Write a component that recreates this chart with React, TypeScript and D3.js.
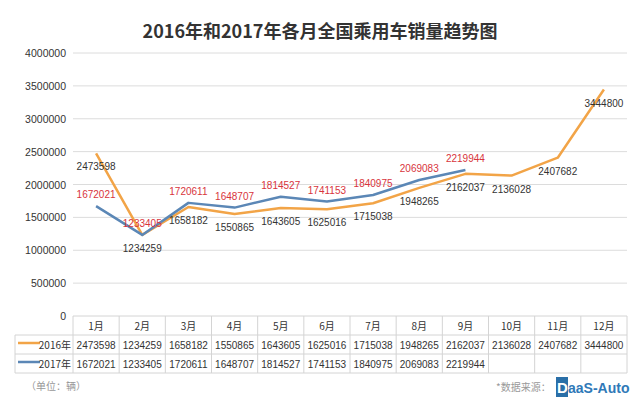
import React from "react";
import * as d3 from "d3";

const months = ["1月", "2月", "3月", "4月", "5月", "6月", "7月", "8月", "9月", "10月", "11月", "12月"];
const sales2016 = [2473598, 1234259, 1658182, 1550865, 1643605, 1625016, 1715038, 1948265, 2162037, 2136028, 2407682, 3444800];
const sales2017 = [1672021, 1233405, 1720611, 1648707, 1814527, 1741153, 1840975, 2069083, 2219944];
const yTicks = [0, 500000, 1000000, 1500000, 2000000, 2500000, 3000000, 3500000, 4000000];
const seriesNames = ["2016年", "2017年"];

const W = 640, H = 400;
const left = 73, right = 627, top = 53, bottom = 316;
const ORANGE = "#F2A447";
const BLUE = "#5B87B6";
const RED = "#D8343C";
const FONT = "'Liberation Sans', Arial, 'Noto Sans CJK SC', sans-serif";
const CJK = "'Noto Sans CJK SC', 'Liberation Sans', sans-serif";

export default function App() {
  const x = d3.scaleBand<string>().domain(months).range([left, right]).padding(0);
  const y = d3.scaleLinear().domain([0, 4000000]).range([bottom, top]);
  const cx = (i: number) => (x(months[i]) as number) + x.bandwidth() / 2;
  const line = d3.line<number>().x((_, i) => cx(i)).y((d) => y(d));

  const rowH = 19;
  const headTop = bottom;
  const row1Top = headTop + rowH;
  const row2Top = row1Top + rowH;
  const tableBottom = row2Top + rowH;
  const labelLeft = 15;

  return (
    <svg width={W} height={H} style={{ position: "absolute", left: 0, top: 0, background: "#fff" }}>
      <rect width={W} height={H} fill="#fff" />
      <text x={320} y={38} textAnchor="middle" fontFamily={CJK} fontWeight="bold" fontSize={18} fill="#333">
        2016年和2017年各月全国乘用车销量趋势图
      </text>
      {yTicks.map((t) => (
        <g key={t}>
          {t > 0 && <line x1={left} x2={right} y1={y(t)} y2={y(t)} stroke="#dcdcdc" strokeWidth={1} />}
          <text x={66} y={y(t) + 4} textAnchor="end" fontFamily={FONT} fontSize={10.5} fill="#333">
            {t}
          </text>
        </g>
      ))}
      <path d={line(sales2016) || ""} fill="none" stroke={ORANGE} strokeWidth={2.5} strokeLinejoin="round" />
      <path d={line(sales2017) || ""} fill="none" stroke={BLUE} strokeWidth={2.5} strokeLinejoin="round" />
      {sales2016.map((v, i) => (
        <text key={"a" + i} x={cx(i)} y={y(v) + 17} textAnchor="middle" fontFamily={FONT} fontSize={10} fill="#333">
          {v}
        </text>
      ))}
      {sales2017.map((v, i) => (
        <text key={"b" + i} x={cx(i)} y={y(v) - 8} textAnchor="middle" fontFamily={FONT} fontSize={10} fill={RED}>
          {v}
        </text>
      ))}
      {/* table */}
      <g stroke="#d4d4d4" strokeWidth={1} fill="none">
        <line x1={left} x2={right} y1={headTop} y2={headTop} />
        <line x1={labelLeft} x2={right} y1={row1Top} y2={row1Top} />
        <line x1={labelLeft} x2={right} y1={row2Top} y2={row2Top} />
        <line x1={labelLeft} x2={right} y1={tableBottom} y2={tableBottom} />
        <line x1={labelLeft} x2={labelLeft} y1={row1Top} y2={tableBottom} />
        {months.map((m) => (
          <line key={m} x1={x(m) as number} x2={x(m) as number} y1={headTop} y2={tableBottom} />
        ))}
        <line x1={right} x2={right} y1={headTop} y2={tableBottom} />
      </g>
      {months.map((m, i) => (
        <text key={"h" + m} x={cx(i)} y={headTop + 14} textAnchor="middle" fontFamily={CJK} fontSize={10} fill="#333">
          {m}
        </text>
      ))}
      {sales2016.map((v, i) => (
        <text key={"r1" + i} x={cx(i)} y={row1Top + 13.5} textAnchor="middle" fontFamily={FONT} fontSize={10} fill="#333">
          {v}
        </text>
      ))}
      {sales2017.map((v, i) => (
        <text key={"r2" + i} x={cx(i)} y={row2Top + 13.5} textAnchor="middle" fontFamily={FONT} fontSize={10} fill="#333">
          {v}
        </text>
      ))}
      <line x1={18} x2={40} y1={row1Top + 8} y2={row1Top + 8} stroke={ORANGE} strokeWidth={2.5} />
      <line x1={18} x2={40} y1={row2Top + 8} y2={row2Top + 8} stroke={BLUE} strokeWidth={2.5} />
      <text x={71} y={row1Top + 13.5} textAnchor="end" fontFamily={CJK} fontSize={10} fill="#333">{seriesNames[0]}</text>
      <text x={71} y={row2Top + 13.5} textAnchor="end" fontFamily={CJK} fontSize={10} fill="#333">{seriesNames[1]}</text>
      <text x={26} y={390} fontFamily={CJK} fontSize={10} fill="#999">（单位：辆）</text>
      <text x={496} y={391} fontFamily={CJK} fontSize={10} fill="#999">*数据来源：</text>
      <rect x={556} y={377} width={12} height={20} fill="#2a6fa8" />
      <text x={557} y={393} fontFamily={FONT} fontWeight="bold" fontSize={15} fill="#fff">D</text>
      <text x={568} y={393} fontFamily={FONT} fontWeight="bold" fontSize={14} fill="#2f79b8">aaS-Auto</text>
    </svg>
  );
}
